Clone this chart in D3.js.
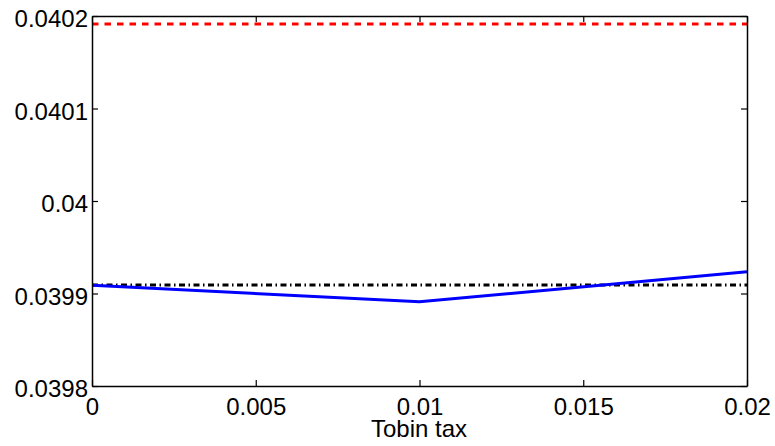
<!DOCTYPE html>
<html><head><meta charset="utf-8">
<script src="https://cdn.jsdelivr.net/npm/d3@7"></script>
<style>body{margin:0;background:#fff}svg{display:block}</style>
</head><body>
<script>
const xTicks = [0, 0.005, 0.01, 0.015, 0.02];
const yTicks = [0.0398, 0.0399, 0.04, 0.0401, 0.0402];
const xTickLabels = ["0", "0.005", "0.01", "0.015", "0.02"];
const yTickLabels = ["0.0398", "0.0399", "0.04", "0.0401", "0.0402"];
const taxX = [0, 0.01, 0.02];
const blueY = [0.039909, 0.039891, 0.0399236];
const redY = [0.0401914, 0.0401914];
const blackY = [0.0399092, 0.0399092];
const refX = [0, 0.02];
const xLabel = "Tobin tax";

const W = 775, H = 446;
const L = 92, R = 747, T = 16, B = 386;
const svg = d3.select("body").append("svg").attr("width", W).attr("height", H);
const x = d3.scaleLinear().domain([0, 0.02]).range([L, R]);
const y = d3.scaleLinear().domain([0.0398, 0.0402]).range([B, T]);
const font = "Liberation Sans, Arial, Helvetica, sans-serif";

const line = d3.line().x(d => x(d[0])).y(d => y(d[1]));
svg.append("clipPath").attr("id","c").append("rect").attr("x",L).attr("y",T).attr("width",R-L).attr("height",B-T);
const g = svg.append("g").attr("clip-path","url(#c)");
g.append("path").datum(refX.map((v,i)=>[v, redY[i]])).attr("d", line)
  .attr("fill","none").attr("stroke","#ff0000").attr("stroke-width",3).attr("stroke-dasharray","6.5,6");
g.append("path").datum(refX.map((v,i)=>[v, blackY[i]])).attr("d", line)
  .attr("fill","none").attr("stroke","#000").attr("stroke-width",3).attr("stroke-dasharray","6,3.5,1.5,3.5");
g.append("path").datum(taxX.map((v,i)=>[v, blueY[i]])).attr("d", line)
  .attr("fill","none").attr("stroke","#0000ff").attr("stroke-width",3);

const axB = d3.axisBottom(x).tickValues(xTicks).tickFormat((d,i)=>xTickLabels[i]).tickSizeInner(-6).tickSizeOuter(0).tickPadding(12);
const axL = d3.axisLeft(y).tickValues(yTicks).tickFormat((d,i)=>yTickLabels[i]).tickSizeInner(-6).tickSizeOuter(0).tickPadding(4);
const axT = d3.axisTop(x).tickValues(xTicks).tickFormat("").tickSizeInner(-6).tickSizeOuter(0);
const axR = d3.axisRight(y).tickValues(yTicks).tickFormat("").tickSizeInner(-6).tickSizeOuter(0);
const gb = svg.append("g").attr("transform",`translate(0,${B})`).call(axB);
const gl = svg.append("g").attr("transform",`translate(${L},0)`).call(axL);
const gt = svg.append("g").attr("transform",`translate(0,${T})`).call(axT);
const gr = svg.append("g").attr("transform",`translate(${R},0)`).call(axR);
[gb,gl,gt,gr].forEach(a=>{
  a.selectAll("path.domain").attr("stroke","#000").attr("stroke-width",1.5);
  a.selectAll(".tick line").attr("stroke","#000").attr("stroke-width",1.2);
  a.selectAll("text").attr("font-family",font).attr("font-size",24).attr("fill","#000");
});
gl.selectAll("text").attr("dy","0.45em");
gb.selectAll("text").attr("dy","0.71em");
svg.append("text").attr("x",(L+R)/2-0.5).attr("y",437).attr("text-anchor","middle")
  .attr("font-family",font).attr("font-size",24).text(xLabel);
</script>
</body></html>
